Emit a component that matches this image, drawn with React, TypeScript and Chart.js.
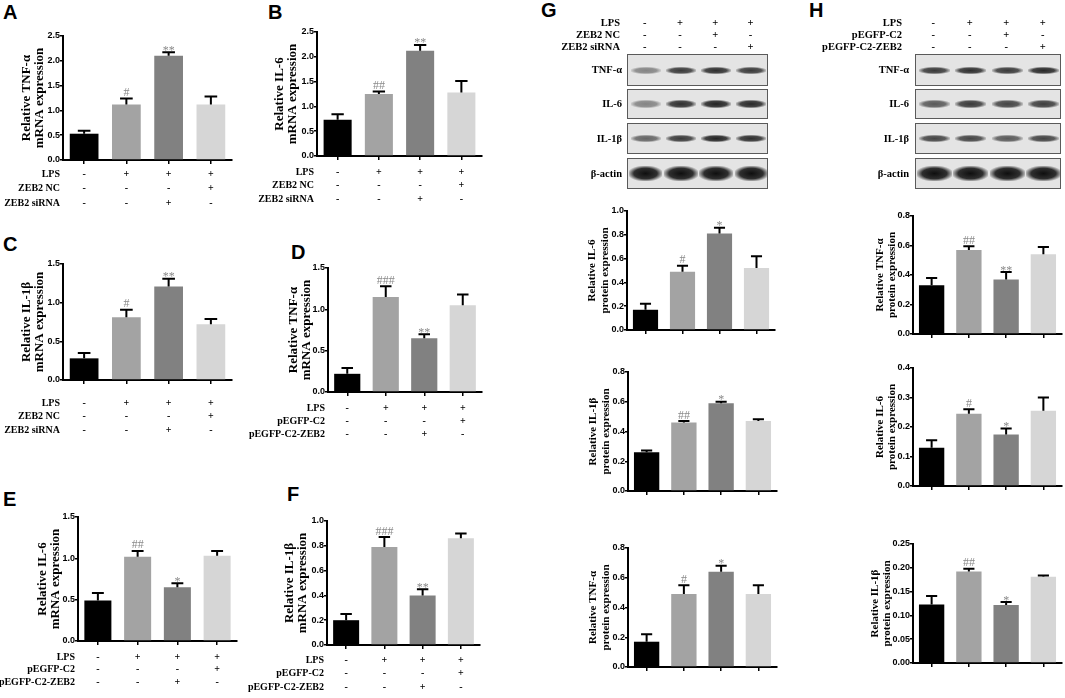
import React, { useEffect, useRef } from "react"
import { Chart, registerables } from "chart.js"

Chart.register(...registerables)

const SERIF = '"Liberation Serif", "Times New Roman", serif'
const SANS = '"Liberation Sans", Arial, sans-serif'

// four groups, same order in every bar chart
const groups = ["Control", "LPS", "LPS + 3", "LPS + 4"]
const barColors = ["#000000", "#a3a3a3", "#818181", "#d6d6d6"]

// condition tables under the mRNA charts
const siRows = [
  { label: "LPS", signs: ["-", "+", "+", "+"] },
  { label: "ZEB2 NC", signs: ["-", "-", "-", "+"] },
  { label: "ZEB2 siRNA", signs: ["-", "-", "+", "-"] },
]
const oeRows = [
  { label: "LPS", signs: ["-", "+", "+", "+"] },
  { label: "pEGFP-C2", signs: ["-", "-", "-", "+"] },
  { label: "pEGFP-C2-ZEB2", signs: ["-", "-", "+", "-"] },
]
// lane headers above the blots
const siLanes = [
  { label: "LPS", signs: ["-", "+", "+", "+"] },
  { label: "ZEB2 NC", signs: ["-", "-", "+", "-"] },
  { label: "ZEB2 siRNA", signs: ["-", "-", "-", "+"] },
]
const oeLanes = [
  { label: "LPS", signs: ["-", "+", "+", "+"] },
  { label: "pEGFP-C2", signs: ["-", "-", "+", "-"] },
  { label: "pEGFP-C2-ZEB2", signs: ["-", "-", "-", "+"] },
]

// A-F: mRNA
const tnfMrnaSi = [0.53, 1.12, 2.1, 1.12]
const tnfMrnaSiErr = [0.06, 0.12, 0.07, 0.16]
const tnfMrnaSiSig = ["", "#", "**", ""]
const il6MrnaSi = [0.73, 1.25, 2.12, 1.28]
const il6MrnaSiErr = [0.11, 0.05, 0.12, 0.23]
const il6MrnaSiSig = ["", "##", "**", ""]
const il1bMrnaSi = [0.28, 0.81, 1.21, 0.72]
const il1bMrnaSiErr = [0.07, 0.1, 0.1, 0.07]
const il1bMrnaSiSig = ["", "#", "**", ""]
const tnfMrnaOe = [0.22, 1.15, 0.65, 1.05]
const tnfMrnaOeErr = [0.07, 0.13, 0.05, 0.13]
const tnfMrnaOeSig = ["", "###", "**", ""]
const il6MrnaOe = [0.49, 1.02, 0.65, 1.03]
const il6MrnaOeErr = [0.09, 0.07, 0.05, 0.06]
const il6MrnaOeSig = ["", "##", "*", ""]
const il1bMrnaOe = [0.2, 0.79, 0.4, 0.86]
const il1bMrnaOeErr = [0.05, 0.08, 0.05, 0.04]
const il1bMrnaOeSig = ["", "###", "**", ""]

// G: protein, knock-down
const il6ProtSi = [0.17, 0.49, 0.81, 0.52]
const il6ProtSiErr = [0.05, 0.05, 0.05, 0.1]
const il6ProtSiSig = ["", "#", "*", ""]
const il1bProtSi = [0.26, 0.46, 0.59, 0.47]
const il1bProtSiErr = [0.012, 0.01, 0.01, 0.012]
const il1bProtSiSig = ["", "##", "*", ""]
const tnfProtSi = [0.17, 0.49, 0.64, 0.49]
const tnfProtSiErr = [0.05, 0.06, 0.04, 0.06]
const tnfProtSiSig = ["", "#", "*", ""]

// H: protein, over-expression
const tnfProtOe = [0.33, 0.57, 0.37, 0.54]
const tnfProtOeErr = [0.05, 0.025, 0.05, 0.05]
const tnfProtOeSig = ["", "##", "**", ""]
const il6ProtOe = [0.13, 0.245, 0.175, 0.255]
const il6ProtOeErr = [0.025, 0.015, 0.02, 0.045]
const il6ProtOeSig = ["", "#", "*", ""]
const il1bProtOe = [0.123, 0.192, 0.122, 0.181]
const il1bProtOeErr = [0.018, 0.006, 0.006, 0.003]
const il1bProtOeSig = ["", "##", "*", ""]

// blot band darkness per lane
const blotNames = ["TNF-α", "IL-6", "IL-1β", "β-actin"]
const blotSi = [
  [0.45, 0.8, 0.85, 0.8],
  [0.45, 0.85, 0.9, 0.88],
  [0.6, 0.8, 0.9, 0.85],
  [1, 1, 1, 1],
]
const blotOe = [
  [0.8, 0.85, 0.8, 0.88],
  [0.65, 0.8, 0.75, 0.78],
  [0.75, 0.75, 0.65, 0.75],
  [1, 1, 1, 1],
]
const bandHeights = [7, 8, 7, 15]

type Row = { label: string, signs: string[] }
type Spec = {
  values: number[], errors: number[], marks: string[], title: string[],
  max: number, step: number, digits: number,
  box: number[], axisX: number, topY: number, zeroY: number, rightX: number,
  titleX: number, titleSize: number, titleGap: number, tickSize: number,
  rows?: Row[], rowTop?: number, rowGap?: number,
}

function BarPanel({ spec }: { spec: Spec }) {
  const canvasRef = useRef<HTMLCanvasElement>(null)

  useEffect(() => {
    if (!canvasRef.current) return
    const s = spec
    const [bx, by, bw, bh] = s.box
    const axisLeft = s.titleX - s.titleGap / 2
    const yWidth = s.axisX - axisLeft

    const extras = {
      id: "extras",
      afterDatasetsDraw(chart: any) {
        const ctx = chart.ctx
        const y = chart.scales.y
        chart.getDatasetMeta(0).data.forEach((bar: any, i: number) => {
          const top = y.getPixelForValue(s.values[i])
          const hi = y.getPixelForValue(s.values[i] + s.errors[i])
          const half = bar.width * 0.22
          ctx.save()
          ctx.strokeStyle = "#000"
          ctx.lineWidth = 2
          ctx.beginPath()
          ctx.moveTo(bar.x, top)
          ctx.lineTo(bar.x, hi)
          ctx.moveTo(bar.x - half, hi)
          ctx.lineTo(bar.x + half, hi)
          ctx.stroke()
          const m = s.marks[i]
          if (m) {
            ctx.fillStyle = "#8a8a8a"
            ctx.font = `12px ${SERIF}`
            ctx.textAlign = "center"
            ctx.textBaseline = "alphabetic"
            ctx.fillText(m, bar.x, m.includes("*") ? hi + 1.5 : hi - 2.5)
          }
          ctx.restore()
        })
      },
      afterDraw(chart: any) {
        if (!s.rows) return
        const ctx = chart.ctx
        const x = chart.scales.x
        const zero = chart.scales.y.getPixelForValue(0)
        const left = chart.chartArea.left
        ctx.save()
        ctx.fillStyle = "#000"
        ctx.font = `bold 10px ${SERIF}`
        ctx.textBaseline = "middle"
        s.rows.forEach((r, k) => {
          const yy = zero + (s.rowTop ?? 15) + k * (s.rowGap ?? 13.5)
          ctx.textAlign = "right"
          ctx.fillText(r.label, left - 3, yy)
          ctx.textAlign = "center"
          r.signs.forEach((sg, i) => ctx.fillText(sg, x.getPixelForValue(i), yy))
        })
        ctx.restore()
      },
    }

    const chart = new Chart(canvasRef.current, {
      type: "bar",
      data: {
        labels: groups,
        datasets: [{
          data: s.values,
          backgroundColor: barColors,
          borderWidth: 0,
          categoryPercentage: 1,
          barPercentage: 0.68,
        }],
      },
      options: {
        animation: false,
        responsive: false,
        events: [],
        layout: {
          padding: {
            left: axisLeft - bx,
            top: s.topY - by,
            right: bx + bw - s.rightX,
            bottom: by + bh - s.zeroY - 4,
          },
        },
        plugins: { legend: { display: false }, tooltip: { enabled: false } },
        scales: {
          x: {
            grid: {
              display: true, drawOnChartArea: false, drawTicks: true, tickLength: 4,
              offset: false, color: "#000", lineWidth: 1.5,
            },
            border: { display: true, color: "#000", width: 2 },
            ticks: { display: false },
            afterFit: (sc: any) => { sc.height = 4 },
          },
          y: {
            min: 0,
            max: s.max,
            ticks: {
              stepSize: s.step,
              color: "#000",
              padding: 0,
              font: { family: SANS, weight: "bold", size: s.tickSize },
              callback: (v: any) => Number(v).toFixed(s.digits),
            },
            grid: { drawOnChartArea: false, tickLength: 3, color: "#000", lineWidth: 1.5 },
            border: { display: true, color: "#000", width: 2 },
            title: {
              display: true,
              text: s.title,
              color: "#000",
              padding: 0,
              font: { family: SERIF, weight: "bold", size: s.titleSize, lineHeight: s.titleGap / s.titleSize },
            },
            afterFit: (sc: any) => { sc.width = yWidth },
          },
        },
      },
      plugins: [extras],
    } as any)

    return () => chart.destroy()
  }, [spec])

  const [bx, by, bw, bh] = spec.box
  return (
    <canvas
      ref={canvasRef}
      width={bw}
      height={bh}
      style={{ position: "absolute", left: bx, top: by, width: bw, height: bh }}
    />
  )
}

const mrna = (title: string) => [`Relative ${title}`, "mRNA expression"]
const prot = (title: string) => [`Relative ${title}`, "protein expression"]

const specs: Spec[] = [
  { values: tnfMrnaSi, errors: tnfMrnaSiErr, marks: tnfMrnaSiSig, title: mrna("TNF-α"), max: 2.5, step: 0.5, digits: 1,
    box: [0, 22, 245, 198], axisX: 63, topY: 36, zeroY: 160, rightX: 232, titleX: 27, titleSize: 13, titleGap: 13, tickSize: 9,
    rows: siRows, rowTop: 14, rowGap: 14.5 },
  { values: il6MrnaSi, errors: il6MrnaSiErr, marks: il6MrnaSiSig, title: mrna("IL-6"), max: 2.5, step: 0.5, digits: 1,
    box: [250, 20, 240, 200], axisX: 317, topY: 32, zeroY: 156, rightX: 482, titleX: 280, titleSize: 13, titleGap: 13, tickSize: 9,
    rows: siRows, rowTop: 16, rowGap: 13.5 },
  { values: il1bMrnaSi, errors: il1bMrnaSiErr, marks: il1bMrnaSiSig, title: mrna("IL-1β"), max: 1.5, step: 0.5, digits: 1,
    box: [0, 250, 245, 195], axisX: 63, topY: 264, zeroY: 380, rightX: 232, titleX: 27, titleSize: 13, titleGap: 13, tickSize: 9,
    rows: siRows, rowTop: 23, rowGap: 13.5 },
  { values: tnfMrnaOe, errors: tnfMrnaOeErr, marks: tnfMrnaOeSig, title: mrna("TNF-α"), max: 1.5, step: 0.5, digits: 1,
    box: [245, 255, 245, 190], axisX: 328, topY: 268, zeroY: 392, rightX: 482, titleX: 293.5, titleSize: 13, titleGap: 13, tickSize: 9,
    rows: oeRows, rowTop: 16, rowGap: 13 },
  { values: il6MrnaOe, errors: il6MrnaOeErr, marks: il6MrnaOeSig, title: mrna("IL-6"), max: 1.5, step: 0.5, digits: 1,
    box: [0, 505, 245, 193], axisX: 78, topY: 517, zeroY: 641, rightX: 237, titleX: 43, titleSize: 13, titleGap: 13, tickSize: 9,
    rows: oeRows, rowTop: 16, rowGap: 12.5 },
  { values: il1bMrnaOe, errors: il1bMrnaOeErr, marks: il1bMrnaOeSig, title: mrna("IL-1β"), max: 1.0, step: 0.2, digits: 1,
    box: [245, 510, 245, 188], axisX: 327, topY: 521, zeroY: 645, rightX: 480, titleX: 290, titleSize: 13, titleGap: 13, tickSize: 9,
    rows: oeRows, rowTop: 15, rowGap: 13.5 },
  { values: il6ProtSi, errors: il6ProtSiErr, marks: il6ProtSiSig, title: prot("IL-6"), max: 1.0, step: 0.2, digits: 1,
    box: [570, 200, 215, 140], axisX: 627, topY: 211, zeroY: 330, rightX: 775, titleX: 592, titleSize: 11, titleGap: 13, tickSize: 9 },
  { values: il1bProtSi, errors: il1bProtSiErr, marks: il1bProtSiSig, title: prot("IL-1β"), max: 0.8, step: 0.2, digits: 1,
    box: [570, 362, 215, 140], axisX: 628, topY: 372, zeroY: 491, rightX: 777, titleX: 593, titleSize: 11, titleGap: 13, tickSize: 9 },
  { values: tnfProtSi, errors: tnfProtSiErr, marks: tnfProtSiSig, title: prot("TNF-α"), max: 0.8, step: 0.2, digits: 1,
    box: [570, 538, 215, 142], axisX: 628, topY: 548, zeroY: 667, rightX: 777, titleX: 593, titleSize: 11, titleGap: 13, tickSize: 9 },
  { values: tnfProtOe, errors: tnfProtOeErr, marks: tnfProtOeSig, title: prot("TNF-α"), max: 0.8, step: 0.2, digits: 1,
    box: [860, 205, 205, 140], axisX: 913, topY: 216, zeroY: 334, rightX: 1062, titleX: 880, titleSize: 11, titleGap: 12, tickSize: 9 },
  { values: il6ProtOe, errors: il6ProtOeErr, marks: il6ProtOeSig, title: prot("IL-6"), max: 0.4, step: 0.1, digits: 1,
    box: [860, 358, 205, 140], axisX: 913, topY: 368, zeroY: 486, rightX: 1062, titleX: 880, titleSize: 11, titleGap: 12, tickSize: 9 },
  { values: il1bProtOe, errors: il1bProtOeErr, marks: il1bProtOeSig, title: prot("IL-1β"), max: 0.25, step: 0.05, digits: 2,
    box: [860, 534, 205, 142], axisX: 913, topY: 544, zeroY: 663, rightX: 1062, titleX: 875, titleSize: 11, titleGap: 12, tickSize: 9 },
]

const letters = [
  { t: "A", x: 3, y: 5 }, { t: "B", x: 268, y: 5 }, { t: "C", x: 3, y: 237 }, { t: "D", x: 291, y: 245 },
  { t: "E", x: 3, y: 492 }, { t: "F", x: 287, y: 487 }, { t: "G", x: 541, y: 3 }, { t: "H", x: 809, y: 3 },
]

const stripRows = [[54, 86], [89, 119], [123, 154], [158, 189]]
const headerY = [23, 35, 47]

function Blot({ x, width, labelRight, headRight, lanes, dark }:
  { x: number, width: number, labelRight: number, headRight: number, lanes: Row[], dark: number[][] }) {
  const lane = width / 4
  const txt: React.CSSProperties = { position: "absolute", fontFamily: SERIF, fontWeight: "bold", fontSize: 10.5, lineHeight: "12px", whiteSpace: "nowrap" }
  return (
    <div style={{ position: "absolute", left: 0, top: 0, width: 1065, height: 200, willChange: "transform" }}>
      {lanes.map((r, k) => (
        <React.Fragment key={r.label}>
          <div style={{ ...txt, right: 1065 - headRight, top: headerY[k] - 6, textAlign: "right" }}>{r.label}</div>
          {r.signs.map((sg, i) => (
            <div key={i} style={{ ...txt, left: x + lane * (i + 0.5) - 10, width: 20, top: headerY[k] - 6, textAlign: "center" }}>{sg}</div>
          ))}
        </React.Fragment>
      ))}
      {stripRows.map(([t, b], k) => (
        <React.Fragment key={k}>
          <div style={{ ...txt, right: 1065 - labelRight, top: (t + b) / 2 - 6, textAlign: "right" }}>{blotNames[k]}</div>
          <div style={{
            position: "absolute", left: x, top: t, width, height: b - t, boxSizing: "border-box",
            border: "1px solid #5a5a5a", background: "#e4e4e4", overflow: "hidden",
          }}>
            {dark[k].map((a, i) => {
              const bh = bandHeights[k]
              const bw = lane * (k === 3 ? 0.95 : 0.85)
              return (
                <div key={i} style={{
                  position: "absolute", left: lane * (i + 0.5) - bw / 2, top: (b - t) / 2 - bh / 2 - 1, width: bw, height: bh,
                  background: `radial-gradient(ellipse at center, rgba(15,15,15,${a}) 0%, rgba(15,15,15,${a * 0.85}) 50%, rgba(15,15,15,0) 78%)`,
                }} />
              )
            })}
          </div>
        </React.Fragment>
      ))}
    </div>
  )
}

export default function App() {
  return (
    <div style={{ position: "absolute", left: 0, top: 0, width: 1065, height: 698, background: "#fff", overflow: "hidden" }}>
      {letters.map((l) => (
        <div key={l.t} style={{
          position: "absolute", left: l.x, top: l.y - 3, fontFamily: SANS, fontWeight: "bold", fontSize: 20, lineHeight: "20px",
        }}>{l.t}</div>
      ))}
      {specs.map((s, i) => <BarPanel key={i} spec={s} />)}
      <Blot x={627} width={141} labelRight={622} headRight={620} lanes={siLanes} dark={blotSi} />
      <Blot x={915} width={146} labelRight={909} headRight={902} lanes={oeLanes} dark={blotOe} />
    </div>
  )
}
